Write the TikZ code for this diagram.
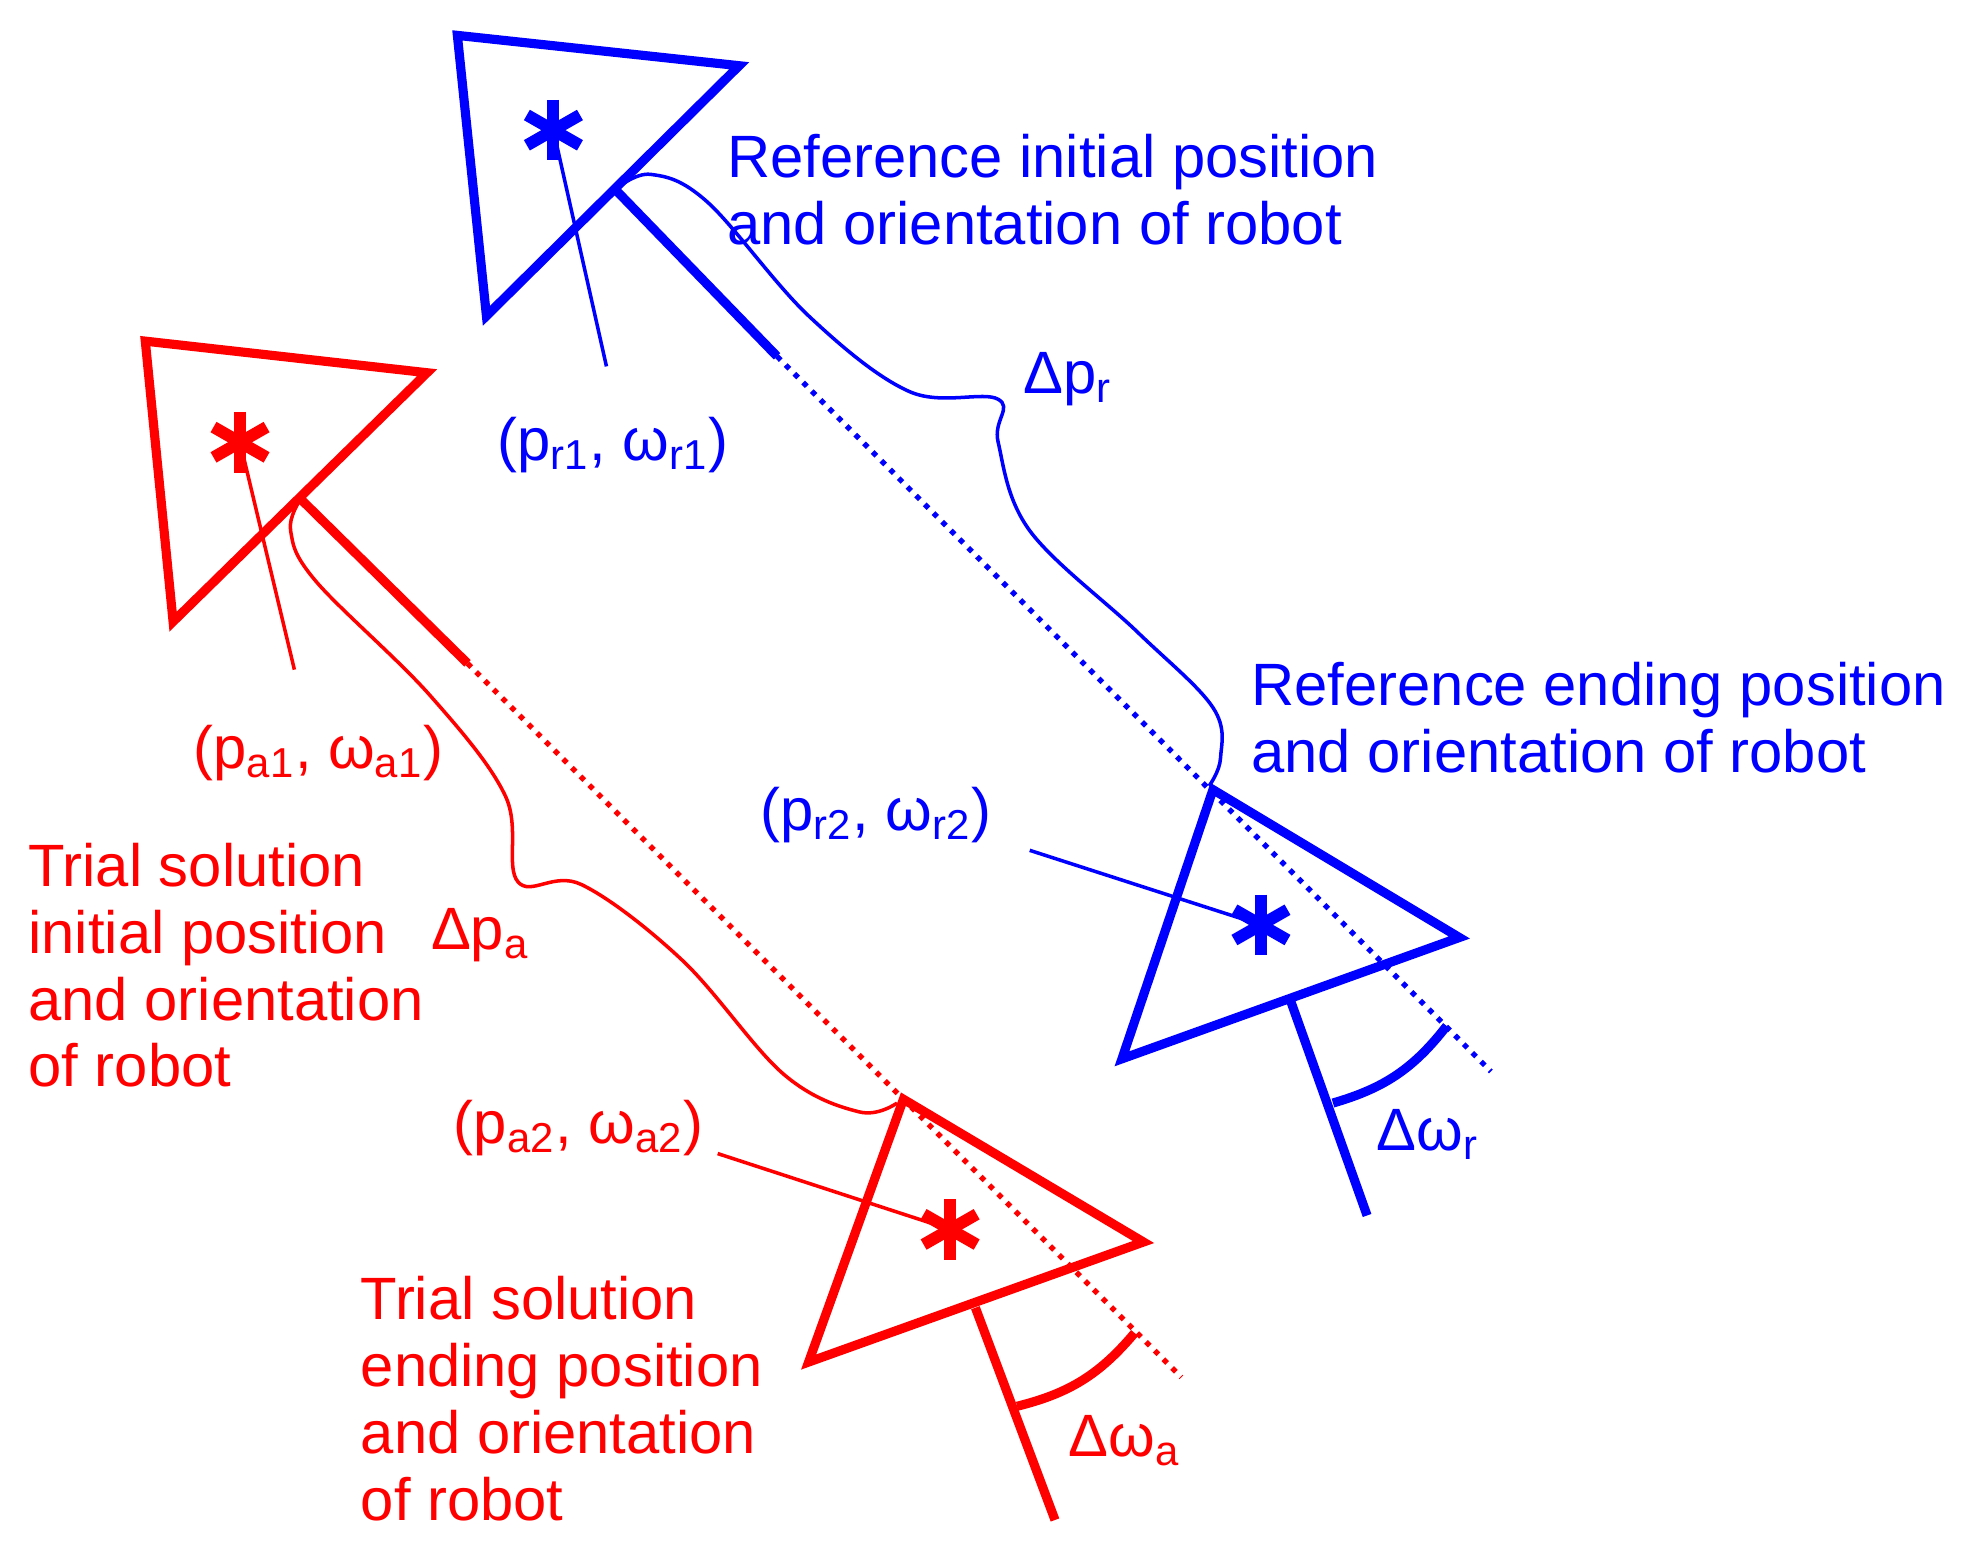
\documentclass[tikz,border=0pt]{standalone}
\usepackage{fontspec}
\setmainfont{Liberation Sans}
\usetikzlibrary{positioning}
\tikzset{
  body/.style={line width=2.6pt, line join=miter},
  thin/.style={line width=1pt},
  heading/.style={dotted, line width=1.5pt},
  lbl/.style={font=\fontsize{17}{19}\selectfont, inner sep=0pt, align=left},
  pics/star/.style={code={
    \draw[line width=3.4pt] (0,-24) -- (0,24);
    \draw[line width=3.4pt] (-21,-12) -- (21,12);
    \draw[line width=3.4pt] (-21,12) -- (21,-12);
  }}
}
\begin{document}
\begin{tikzpicture}[x=0.12635mm, y=-0.12635mm]

    % rahmen
    \useasboundingbox (0,0) rectangle (1560,1232);

    % 1. Referenz (blau)
    \begin{scope}[blue]
    \draw[body] (362,28) -- (585,52) -- (385,250) -- cycle;
    \pic at (438,103) {star};
    \coordinate (rs1) at (438,103);
    \coordinate (rp1) at (480,290);
    \draw[thin] (rs1) -- (rp1);
    \coordinate (rh1) at (487,150);
    \coordinate (rh2) at (615,282);
    \coordinate (rh3) at (1180,848);
    \draw[body] (rh1) -- (rh2);
    \draw[heading] (rh2) -- (rh3);
    % Delta p_r
    \draw[thin] plot[smooth, tension=0.6] coordinates {
        (487,150) (515,138) (560,160) (640,250) (720,310) (790,316)
        (790,350) (815,420) (900,500) (960,560) (966,600) (957,622)};
    % Endlage
    \draw[body] (960,625) -- (1155,742) -- (888,838) -- cycle;
    \pic at (998,732) {star};
    \coordinate (rs2) at (998,732);
    \coordinate (rp2) at (815,673);
    \draw[thin] (rp2) -- (rs2);
    \coordinate (ro1) at (1020,788);
    \coordinate (ro2) at (1082,962);
    \draw[body] (ro1) -- (ro2);
    \draw[body] (1055,873) to[bend right=18] (1145,812);
    \end{scope}

    % 2. Versuchsloesung (rot)
    \begin{scope}[red]
    \draw[body] (115,270) -- (338,295) -- (137,492) -- cycle;
    \pic at (190,350) {star};
    \coordinate (as1) at (190,350);
    \coordinate (ap1) at (233,530);
    \draw[thin] (as1) -- (ap1);
    \coordinate (ah1) at (238,395);
    \coordinate (ah2) at (370,525);
    \coordinate (ah3) at (935,1090);
    \draw[body] (ah1) -- (ah2);
    \draw[heading] (ah2) -- (ah3);
    % Delta p_a
    \draw[thin] plot[smooth, tension=0.6] coordinates {
        (238,395) (230,420) (250,460) (340,550) (400,630) (410,698)
        (460,700) (540,760) (620,850) (680,880) (710,873)};
    % Endlage
    \draw[body] (715,870) -- (905,983) -- (640,1078) -- cycle;
    \pic at (752,973) {star};
    \coordinate (as2) at (752,973);
    \coordinate (ap2) at (568,913);
    \draw[thin] (ap2) -- (as2);
    \coordinate (ao1) at (772,1035);
    \coordinate (ao2) at (835,1203);
    \draw[body] (ao1) -- (ao2);
    \draw[body] (805,1113) to[bend right=18] (898,1055);
    \end{scope}

    % 3. Beschriftungen
    \node[lbl, blue, anchor=west] (rinit) at (575,150) {Reference initial position\\and orientation of robot};
    \node[lbl, blue] (dpr) at (845,300) {Δp\textsubscript{r}};
    \node[lbl, blue] (pr1) at (485,352) {(p\textsubscript{r1}, ω\textsubscript{r1})};
    \node[lbl, blue, anchor=west] (rend) at (990,568) {Reference ending position\\and orientation of robot};
    \node[lbl, blue] (pr2) at (693,645) {(p\textsubscript{r2}, ω\textsubscript{r2})};
    \node[lbl, blue] (dwr) at (1130,898) {Δω\textsubscript{r}};

    \node[lbl, red] (pa1) at (252,596) {(p\textsubscript{a1}, ω\textsubscript{a1})};
    \node[lbl, red, anchor=west] (ainit) at (22,764) {Trial solution\\initial position\\and orientation\\of robot};
    \node[lbl, red] (dpa) at (380,740) {Δp\textsubscript{a}};
    \node[lbl, red] (pa2) at (458,893) {(p\textsubscript{a2}, ω\textsubscript{a2})};
    \node[lbl, red, anchor=west] (aend) at (285,1107) {Trial solution\\ending position\\and orientation\\of robot};
    \node[lbl, red] (dwa) at (890,1140) {Δω\textsubscript{a}};

\end{tikzpicture}
\end{document}
